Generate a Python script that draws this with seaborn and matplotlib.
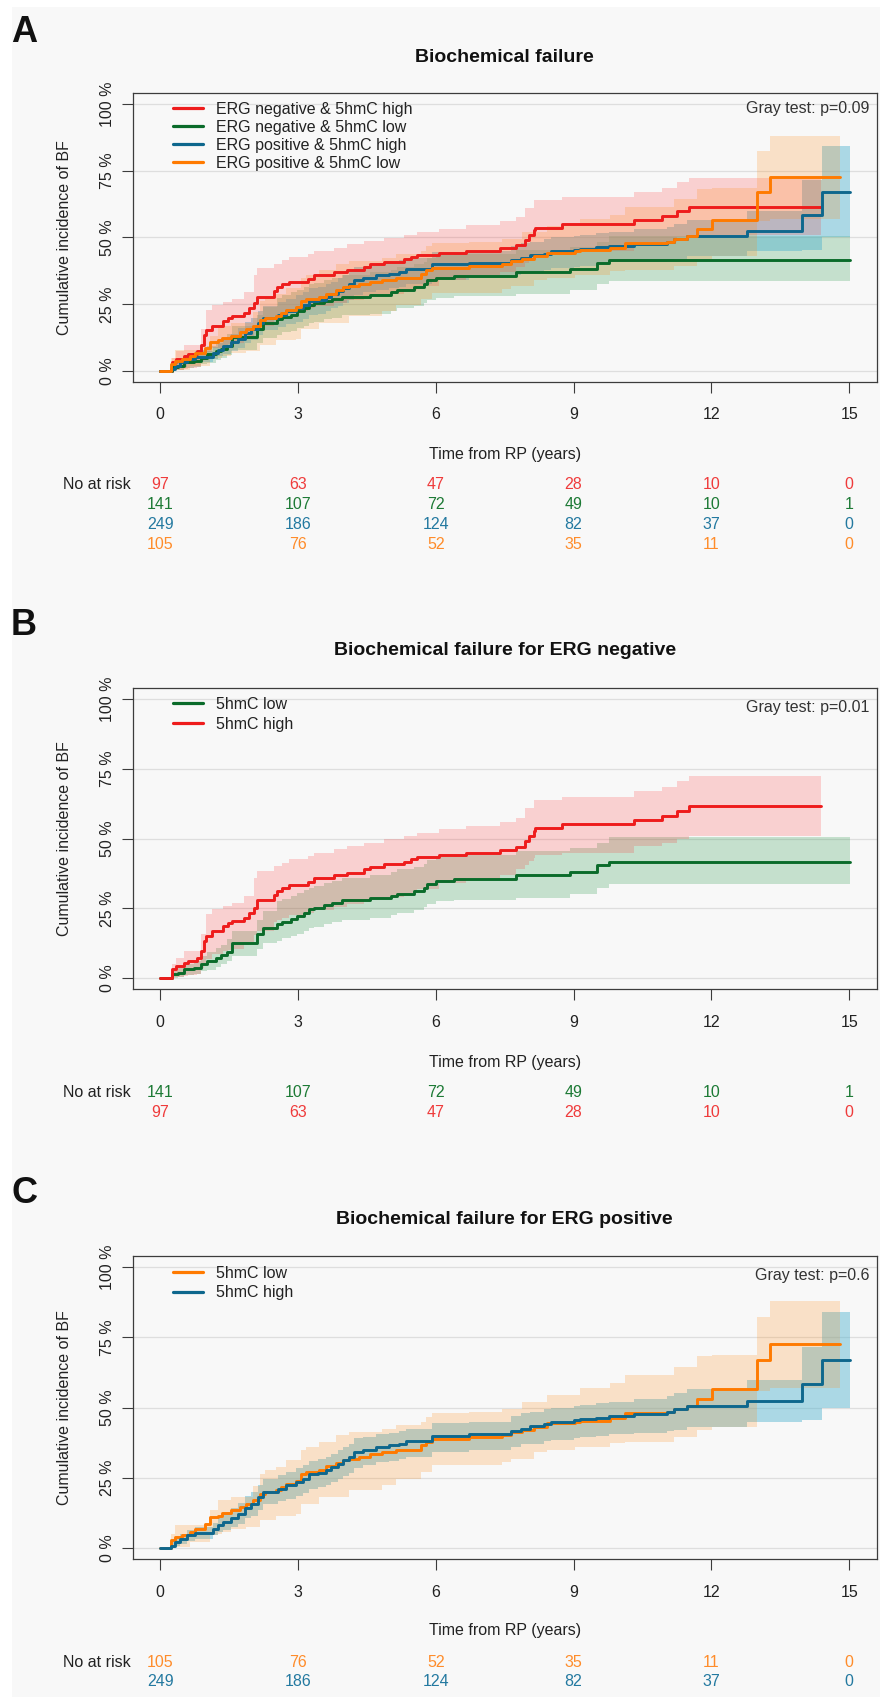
import numpy as np
import pandas as pd
import matplotlib
matplotlib.use("Agg")
import matplotlib.pyplot as plt
from matplotlib.lines import Line2D
from matplotlib.patches import Rectangle
from matplotlib.transforms import blended_transform_factory
import seaborn as sns

# ------------------------------------------------------------------ data
TIME_TICKS = [0, 3, 6, 9, 12, 15]
PCT_TICKS = [0, 25, 50, 75, 100]
PCT_LABELS = ["0 %", "25 %", "50 %", "75 %", "100 %"]

# ERG negative & 5hmC high
RED_T = [0, 0.27, 0.34, 0.52, 0.60, 0.81, 0.89, 0.96, 0.99, 1.14, 1.36, 1.47, 1.57, 1.83, 1.94,
         2.05, 2.12, 2.48, 2.55, 2.66, 2.81, 3.21, 3.35, 3.79, 4.08, 4.44, 4.58, 4.87, 5.31, 5.46,
         5.60, 6.07, 6.65, 7.41, 7.74, 7.95, 8.03, 8.14, 8.17, 8.75, 10.31, 10.93, 11.25, 11.51]
RED_EST = [0, 3.2, 4.4, 5.6, 6.2, 7.4, 9.8, 13.4, 15.2, 17.0, 18.7, 19.9, 20.5, 21.7, 23.5,
           25.3, 27.9, 30.0, 31.3, 32.5, 33.4, 34.6, 36.0, 36.9, 37.8, 39.0, 39.9, 40.8, 41.8, 42.6,
           43.4, 44.2, 45.0, 46.0, 47.1, 49.2, 51.0, 52.7, 53.7, 55.1, 56.6, 58.1, 59.9, 61.6]
RED_HI = [0, 5, 7.4, 9.8, 9.8, 9.8, 15.8, 15.8, 22.9, 24.7, 25.9, 25.9, 27.1, 29.5, 29.5,
          36.0, 38.4, 40.2, 40.2, 41.4, 42.6, 43.8, 45.0, 46.2, 47.4, 48.6, 48.6, 49.8, 51.0, 51.0,
          52.1, 53.3, 54.5, 56.0, 57.5, 61.0, 61.0, 64.0, 64.0, 65.0, 67.0, 68.6, 70.6, 72.4]
RED_LO = [0, 0.3, 0.5, 0.8, 1.0, 1.5, 3.8, 5.0, 7.0, 8.6, 9.8, 10.0, 10.4, 12.0, 13.0,
          15.5, 17.0, 20.0, 21.0, 21.5, 22.5, 23.5, 24.5, 25.5, 26.5, 27.5, 28.5, 29.0, 30.0, 30.5,
          32.0, 34.0, 36.0, 37.0, 39.0, 40.5, 42.0, 43.2, 44.0, 45.0, 47.5, 48.5, 50.0, 51.0]
RED_END = 14.39

# ERG negative & 5hmC low
GREEN_T = [0, 0.27, 0.38, 0.52, 0.74, 0.89, 1.03, 1.21, 1.32, 1.45, 1.57, 2.12, 2.23, 2.55, 2.66,
           2.84, 2.99, 3.13, 3.24, 3.35, 3.57, 3.75, 3.97, 4.58, 5.02, 5.16, 5.53, 5.74, 5.82, 6.00,
           6.40, 7.74, 8.93, 9.51, 9.77]
GREEN_EST = [0, 1.4, 2.0, 3.2, 3.8, 5.0, 6.2, 7.4, 8.4, 9.5, 12.8, 15.8, 18.1, 19.3, 20.3,
             21.1, 22.3, 23.5, 24.7, 25.3, 26.3, 27.1, 27.9, 28.6, 29.5, 30.3, 31.3, 32.5, 33.9, 34.8,
             35.4, 37.0, 38.2, 40.6, 41.6]
GREEN_HI = [0, 3, 4, 5, 6, 8, 9.5, 11, 12, 14, 17, 21, 24, 27.5, 28.5,
            29.5, 30.5, 31.5, 32.5, 33, 34, 35, 36, 37, 38, 39, 40, 41, 42.5, 43.5,
            44, 45.5, 46.5, 48.5, 50.6]
GREEN_LO = [0, 0.2, 0.5, 1, 1.5, 2.5, 3, 4, 5, 6, 8, 10.5, 12.5, 13.5, 14.5,
            15, 16, 17, 18, 18.5, 19.5, 20, 21, 21.5, 22.5, 23.5, 24.5, 25.5, 26.5, 27.5,
            28, 28.9, 30.3, 32.5, 33.6]
GREEN_END = 15.02

# ERG positive & 5hmC high
BLUE_T = [0, 0.23, 0.33, 0.43, 0.58, 0.76, 1.16, 1.27, 1.37, 1.55, 1.70, 1.84, 1.99, 2.13, 2.24,
          2.57, 2.75, 2.96, 3.11, 3.25, 3.43, 3.62, 3.72, 3.87, 3.98, 4.12, 4.23, 4.41, 4.70, 4.99,
          5.21, 5.35, 5.93, 6.72, 7.63, 7.85, 8.06, 8.35, 8.50, 9.01, 9.15, 9.48, 9.77, 10.31, 11.04,
          11.18, 11.47, 12.78, 13.97, 14.41]
BLUE_EST = [0, 0.8, 2.0, 3.2, 4.4, 5.4, 6.8, 8.0, 9.2, 10.7, 12.1, 14.3, 15.7, 18.1, 19.9,
            21.1, 22.3, 23.5, 24.6, 26.2, 26.7, 27.6, 28.8, 30.0, 31.2, 32.4, 34.2, 35.0, 36.0, 36.5,
            36.9, 38.1, 39.9, 40.5, 41.7, 42.5, 43.3, 44.0, 44.9, 45.5, 45.8, 46.3, 46.9, 47.6, 48.5,
            49.3, 50.5, 52.3, 58.3, 67.1]
BLUE_HI = [0, 2, 3.5, 5, 6.5, 7.5, 9, 10.5, 12, 14, 16, 18.5, 20, 22.5, 24.5,
           26, 27, 28.5, 29.5, 31, 31.5, 32.5, 33.5, 35, 36, 37, 39, 39.5, 40.5, 41,
           41.5, 42.5, 44.5, 45, 47, 48, 48.5, 49.5, 50, 50.5, 51, 51.5, 52, 53, 54,
           55, 56.5, 59.8, 71.7, 84.2]
BLUE_LO = [0, 0, 0.8, 1.5, 2.5, 3.3, 4.5, 5.5, 6.5, 7.5, 8.5, 10.5, 11.5, 13.5, 15.5,
           16.5, 17.5, 18.5, 19.5, 21, 21.5, 22.5, 23.5, 24.5, 25.5, 26.5, 28.5, 29.5, 30.5, 31,
           31.5, 32.5, 34, 34.8, 36, 37, 37.1, 38, 38.5, 39, 39.5, 40, 40.7, 41, 41.5,
           42.1, 43, 44.9, 45.5, 50]
BLUE_END = 15.01

# ERG positive & 5hmC low
ORANGE_T = [0, 0.23, 0.33, 0.47, 0.65, 0.76, 0.98, 1.08, 1.27, 1.34, 1.55, 1.74, 1.88, 2.02, 2.17,
            2.28, 2.53, 2.64, 2.75, 2.96, 3.07, 3.18, 3.47, 3.62, 3.83, 3.98, 4.12, 4.34, 4.56, 4.84,
            5.13, 5.68, 5.78, 5.93, 6.72, 7.45, 7.63, 7.88, 8.14, 8.43, 9.04, 9.15, 9.80, 10.13, 11.04,
            11.18, 11.47, 11.69, 12.01, 12.99, 13.27]
ORANGE_EST = [0, 2.6, 3.8, 4.4, 5.6, 6.8, 8.6, 11.0, 11.5, 12.4, 13.3, 14.5, 15.7, 16.9, 19.0,
              19.9, 20.5, 21.7, 22.9, 23.8, 26.4, 27.0, 27.9, 29.0, 30.2, 31.4, 31.8, 32.4, 33.3, 34.2,
              35.0, 36.5, 37.7, 38.6, 39.5, 40.2, 41.1, 42.1, 43.1, 44.3, 44.9, 45.2, 46.1, 48.1, 48.5,
              49.6, 50.5, 53.2, 56.5, 67.1, 72.6]
ORANGE_HI = [0, 5, 8, 8, 8, 8, 8, 13.3, 17, 17, 18, 18, 18, 22, 26.4,
             27.6, 28.8, 28.8, 31.2, 31.2, 34.8, 36, 37.7, 37.7, 40.1, 40.1, 41.3, 41.3, 41.3, 42.5,
             43.7, 45, 46.7, 47.9, 48.5, 49.6, 49.6, 52, 52, 54.4, 54.4, 56.8, 58.6, 61.5, 61.5,
             64.5, 64.5, 68.3, 68.7, 82.4, 88.1]
ORANGE_LO = [0, 0.2, 0.2, 0.2, 2, 2, 2, 4.5, 5, 5.5, 6.8, 6.8, 7.5, 7.5, 9.8,
             9.8, 11.5, 11.5, 11.5, 12, 15.7, 15.7, 18.1, 18.1, 18.1, 18.1, 20.5, 20.5, 20.5, 22.3,
             24.6, 27, 27, 29.4, 29.4, 30.6, 31.8, 31.8, 34.2, 34.8, 36, 36, 37.4, 37.7, 37.7,
             39.5, 39.5, 41.9, 43.1, 56, 57]
ORANGE_END = 14.81

RISK_RED = [97, 63, 47, 28, 10, 0]
RISK_GREEN = [141, 107, 72, 49, 10, 1]
RISK_BLUE = [249, 186, 124, 82, 37, 0]
RISK_ORANGE = [105, 76, 52, 35, 11, 0]

# ------------------------------------------------------------------ style
sns.set_theme(style="white")
plt.rcParams["font.family"] = ["Liberation Sans", "DejaVu Sans"]

W, H = 880, 1697
BG = "#f8f8f8"
FS = 11.5


def make_df(t, est, lo, hi, end):
    return pd.DataFrame({
        "time": list(t) + [end],
        "est": list(est) + [est[-1]],
        "lo": list(lo) + [lo[-1]],
        "hi": list(hi) + [hi[-1]],
    })


GROUPS = {
    "red": dict(df=make_df(RED_T, RED_EST, RED_LO, RED_HI, RED_END), line="#ee1c1c",
                band="#ff3030", alpha=0.2, text="#ef3b3b", risk=RISK_RED,
                full="ERG negative & 5hmC high", short="5hmC high"),
    "green": dict(df=make_df(GREEN_T, GREEN_EST, GREEN_LO, GREEN_HI, GREEN_END), line="#0a6b2a",
                  band="#2e9a4e", alpha=0.25, text="#1d7a35", risk=RISK_GREEN,
                  full="ERG negative & 5hmC low", short="5hmC low"),
    "blue": dict(df=make_df(BLUE_T, BLUE_EST, BLUE_LO, BLUE_HI, BLUE_END), line="#0e678d",
                 band="#4fb3cf", alpha=0.45, text="#2379a0", risk=RISK_BLUE,
                 full="ERG positive & 5hmC high", short="5hmC high"),
    "orange": dict(df=make_df(ORANGE_T, ORANGE_EST, ORANGE_LO, ORANGE_HI, ORANGE_END), line="#ff7a00",
                   band="#ff8c1a", alpha=0.22, text="#ff8c2a", risk=RISK_ORANGE,
                   full="ERG positive & 5hmC low", short="5hmC low"),
}

PANELS = [
    dict(letter="A", letter_base=42, box=(132.5, 93.3, 876.7, 381.7),
         title="Biochemical failure", title_base=61.7,
         gray="Gray test: p=0.09", gray_base=113.3,
         order=["red", "green", "blue", "orange"], bands=["green", "blue", "red", "orange"],
         use_full=True, leg_top=102.0, leg_spacing=0.18,
         xlabel_base=459.3, risk_base=[489.3, 508.7, 529.0, 549.0]),
    dict(letter="B", letter_base=635, box=(132.5, 688.0, 876.7, 989.4),
         title="Biochemical failure for ERG negative", title_base=655.0,
         gray="Gray test: p=0.01", gray_base=711.7,
         order=["green", "red"], bands=["green", "red"],
         use_full=False, leg_top=697.0, leg_spacing=0.3,
         xlabel_base=1067.0, risk_base=[1097.3, 1116.7]),
    dict(letter="C", letter_base=1203, box=(132.5, 1256.0, 876.7, 1559.0),
         title="Biochemical failure for ERG positive", title_base=1223.5,
         gray="Gray test: p=0.6", gray_base=1280.0,
         order=["orange", "blue"], bands=["blue", "orange"],
         use_full=False, leg_top=1265.5, leg_spacing=0.3,
         xlabel_base=1635.5, risk_base=[1666.7, 1686.5]),
]

fig = plt.figure(figsize=(W / 100, H / 100), dpi=100, facecolor="white")
fig.patches.append(Rectangle((12 / W, 0), 1 - 12 / W, 1 - 7 / H, transform=fig.transFigure,
                             facecolor=BG, edgecolor="none", zorder=-10))


def fy(px):
    return 1 - px / H


for P in PANELS:
    l, t, r, b = P["box"]
    ax = fig.add_axes([l / W, 1 - b / H, (r - l) / W, (b - t) / H])
    ax.set_facecolor(BG)
    ax.set_axisbelow(True)

    for key in P["bands"]:
        g = GROUPS[key]
        d = g["df"]
        ax.fill_between(d["time"], d["lo"], d["hi"], step="post", color=g["band"],
                        alpha=g["alpha"], lw=0, zorder=2)
    for key in P["order"]:
        g = GROUPS[key]
        sns.lineplot(data=g["df"], x="time", y="est", drawstyle="steps-post", color=g["line"],
                     lw=2.1, ax=ax, estimator=None, sort=False, errorbar=None, zorder=3)

    ax.set_xlim(-0.6, 15.6)
    ax.set_ylim(-4, 104)
    ax.set_xticks(TIME_TICKS)
    ax.set_xticklabels([str(v) for v in TIME_TICKS])
    ax.set_yticks(PCT_TICKS)
    ax.set_yticklabels(PCT_LABELS, rotation=90, va="center")
    ax.yaxis.grid(True, color="#dedede", lw=0.9)
    ax.xaxis.grid(False)
    for s in ax.spines.values():
        s.set_color("#3c3c3c")
        s.set_linewidth(0.9)
    ax.tick_params(axis="both", direction="out", length=7.9, width=0.8, color="#3c3c3c",
                   labelsize=FS, labelcolor="#222222")
    ax.tick_params(axis="x", pad=10.5, bottom=True)
    ax.tick_params(axis="y", pad=4.5, left=True)

    ax.set_ylabel("Cumulative incidence of BF", fontsize=FS, color="#222222",
                  va="center", ha="center")
    ax.yaxis.set_label_coords((64.5 - l) / (r - l), 0.5)
    ax.set_xlabel("Time from RP (years)", fontsize=FS, color="#222222", va="baseline")
    ax.xaxis.set_label_coords(0.5, (b - P["xlabel_base"]) / (b - t))

    # legend
    handles = [Line2D([], [], color=GROUPS[k]["line"], lw=2.3) for k in P["order"]]
    labels = [GROUPS[k]["full"] if P["use_full"] else GROUPS[k]["short"] for k in P["order"]]
    leg = ax.legend(handles, labels, loc="upper left",
                    bbox_to_anchor=((173 - l) / (r - l), (b - P["leg_top"]) / (b - t)),
                    frameon=False, borderpad=0, borderaxespad=0, handlelength=1.9,
                    handletextpad=0.8, labelspacing=P["leg_spacing"], fontsize=FS)
    for txt in leg.get_texts():
        txt.set_color("#222222")

    # gray test
    ax.text((869.5 - l) / (r - l), (b - P["gray_base"]) / (b - t), P["gray"],
            transform=ax.transAxes, ha="right", va="baseline", fontsize=FS, color="#333333")

    # title and panel letter
    fig.text((l + r) / 2 / W, fy(P["title_base"]), P["title"], ha="center", va="baseline",
             fontsize=14, fontweight="bold", color="#111111")
    fig.text(11 / W, fy(P["letter_base"]), P["letter"], ha="left", va="baseline",
             fontsize=26, fontweight="bold", color="#111111")

    # numbers at risk
    tr = blended_transform_factory(ax.transData, fig.transFigure)
    tr_lab = blended_transform_factory(ax.transAxes, fig.transFigure)
    ax.text(-0.002, fy(P["risk_base"][0]), "No at risk", transform=tr_lab, ha="right",
            va="baseline", fontsize=FS, color="#222222")
    for key, base in zip(P["order"], P["risk_base"]):
        g = GROUPS[key]
        for x, n in zip(TIME_TICKS, g["risk"]):
            ax.text(x, fy(base), str(n), transform=tr, ha="center", va="baseline",
                    fontsize=FS, color=g["text"], clip_on=False)

fig.savefig("out.png", dpi=100, facecolor="white")
